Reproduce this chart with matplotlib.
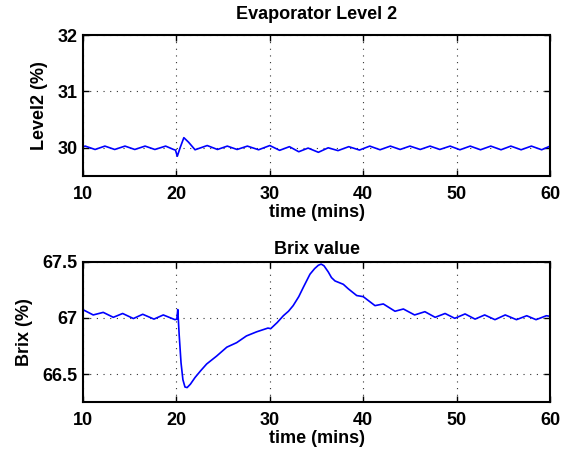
import matplotlib
matplotlib.use("Agg")
import matplotlib.pyplot as plt

plt.rcParams["font.family"] = ["Liberation Sans", "DejaVu Sans"]
plt.rcParams["font.weight"] = "bold"

# Level 2 readings (time in mins, level in %)
level_t = [10.0, 10.25, 11.3, 12.35, 13.4, 14.5, 15.55, 16.65, 17.7, 18.85,
           19.7, 19.9, 20.1, 20.4, 20.8, 21.3, 22.0, 23.3, 24.4, 25.45,
           26.5, 27.6, 28.8, 30.0, 31.05, 32.1, 33.1, 34.1, 35.2, 36.25,
           37.3, 38.45, 39.6, 40.7, 41.8, 42.9, 43.95, 45.0, 46.1, 47.15,
           48.2, 49.3, 50.35, 51.45, 52.55, 53.65, 54.75, 55.8, 56.9, 58.0,
           59.1, 60.0]
level_v = [30.02, 30.03, 29.97, 30.03, 29.97, 30.03, 29.97, 30.03, 29.97, 30.03,
           29.97, 29.96, 29.85, 30.0, 30.18, 30.1, 29.965, 30.04, 29.97, 30.03,
           29.97, 30.03, 29.965, 30.04, 29.955, 30.02, 29.93, 29.995, 29.92, 30.0,
           29.95, 30.02, 29.96, 30.03, 29.965, 30.03, 29.97, 30.03, 29.97, 30.03,
           29.97, 30.03, 29.965, 30.03, 29.965, 30.03, 29.965, 30.03, 29.965, 30.03,
           29.965, 30.03]

# Brix readings (time in mins, brix in %)
brix_t = [10.0, 11.1, 12.17, 13.25, 14.25, 15.4, 16.4, 17.6, 18.6, 19.85,
          20.05, 20.15, 20.3, 20.5, 20.7, 20.92, 21.15, 21.5, 22.0, 22.6,
          23.24, 24.3, 25.4, 26.45, 27.5, 28.6, 29.8, 30.1, 30.8, 31.45,
          32.0, 32.5, 33.1, 33.6, 34.3, 34.8, 35.2, 35.5, 35.8, 36.26,
          36.6, 36.98, 37.87, 38.4, 39.3, 40.0, 41.26, 42.15, 43.4, 44.3,
          45.5, 46.6, 47.7, 48.76, 49.8, 50.9, 51.97, 53.0, 54.1, 55.2,
          56.4, 57.5, 58.5, 59.6, 60.0]
brix_v = [67.074, 67.027, 67.05, 67.006, 67.04, 66.995, 67.033, 66.99, 67.027, 66.985,
          66.99, 67.075, 66.85, 66.6, 66.45, 66.385, 66.38, 66.41, 66.47, 66.53,
          66.59, 66.66, 66.74, 66.78, 66.84, 66.877, 66.91, 66.905, 66.96, 67.02,
          67.06, 67.11, 67.19, 67.275, 67.39, 67.44, 67.47, 67.48, 67.465, 67.41,
          67.36, 67.33, 67.30, 67.26, 67.20, 67.19, 67.11, 67.125, 67.06, 67.08,
          67.027, 67.056, 67.006, 67.04, 66.997, 67.036, 66.99, 67.027, 66.985, 67.027,
          66.985, 67.02, 66.985, 67.02, 67.015]

x_ticks = [10, 20, 30, 40, 50, 60]
level_ticks = [30, 31, 32]
brix_ticks = [66.5, 67, 67.5]
brix_labels = ["66.5", "67", "67.5"]

FS = 13


def style_axes(ax):
    ax.grid(True, linestyle=(0, (1, 5)), color="#333333", linewidth=0.8)
    ax.tick_params(direction="in", top=True, right=True, length=4,
                   width=1, labelsize=FS)
    ax.tick_params(axis="x", pad=7)
    ax.tick_params(axis="y", pad=4)
    for s in ax.spines.values():
        s.set_linewidth(1.5)
    for lab in ax.get_xticklabels() + ax.get_yticklabels():
        lab.set_fontweight("bold")


fig = plt.figure(figsize=(5.76, 4.57), dpi=100)

ax1 = fig.add_axes([0.144, 0.615, 0.811, 0.308])
ax1.plot(level_t, level_v, color="blue", linewidth=1.2)
ax1.set_xlim(10, 60)
ax1.set_ylim(29.5, 32)
ax1.set_xticks(x_ticks)
ax1.set_yticks(level_ticks)
ax1.set_title("Evaporator Level 2", fontweight="bold", fontsize=FS, pad=12)
ax1.set_xlabel("time (mins)", fontweight="bold", fontsize=FS, labelpad=1)
ax1.set_ylabel("Level2 (%)", fontweight="bold", fontsize=FS, labelpad=7)
style_axes(ax1)

ax2 = fig.add_axes([0.144, 0.120, 0.811, 0.307])
ax2.plot(brix_t, brix_v, color="blue", linewidth=1.2)
ax2.set_xlim(10, 60)
ax2.set_ylim(66.25, 67.5)
ax2.set_xticks(x_ticks)
ax2.set_yticks(brix_ticks)
ax2.set_yticklabels(brix_labels)
ax2.set_title("Brix value", fontweight="bold", fontsize=FS, pad=6)
ax2.set_xlabel("time (mins)", fontweight="bold", fontsize=FS, labelpad=1)
ax2.set_ylabel("Brix (%)", fontweight="bold", fontsize=FS, labelpad=7)
style_axes(ax2)

fig.savefig("out.png", dpi=100)
